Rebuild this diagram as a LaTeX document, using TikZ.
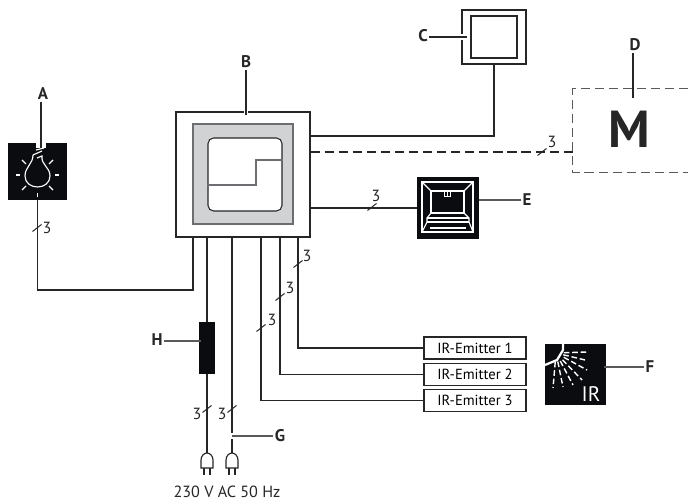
\documentclass[tikz,border=0pt]{standalone}
\usepackage{fontspec}
\setmainfont{PT Sans}
\usetikzlibrary{calc}
\definecolor{panelgray}{HTML}{D1D2D4}
\definecolor{edgegray}{HTML}{6D6E71}
\definecolor{leadgray}{HTML}{58595B}
\definecolor{icon}{HTML}{0B0C10}
\tikzstyle{box}=[rectangle,draw=black!85,fill=white,inner sep=0pt,line width=0.75pt,anchor=center]
\tikzstyle{iconbox}=[rectangle,fill=icon,inner sep=0pt,anchor=center]
\tikzstyle{annot}=[align=center,inner sep=1pt,font=\fontsize{11.5}{13}\selectfont,text=black!85]
\tikzstyle{letter}=[inner sep=1pt,font=\fontsize{12}{14}\bfseries\selectfont,text=black!85]
\tikzstyle{wire}=[line width=0.8pt,black!85]
\tikzstyle{lead}=[line width=0.8pt,leadgray]
\tikzstyle{halo}=[line width=3pt,white]
\tikzstyle{glyph}=[line width=0.8pt,white]
\newcommand{\wirecount}[5]
{
  \draw[line width=0.7pt,black!85] (#2-4.5,#3+3.5) -- (#2+4.5,#3-3.5);
  \node[annot](#1) at (#4,#5){3};
}
\newcommand{\plugicon}[1]
{
  \draw[line width=0.8pt,black!85,fill=white] (#1-6,468) -- (#1-6,460) .. controls (#1-6,456) and (#1-3,453) .. (#1,453) .. controls (#1+3,453) and (#1+6,456) .. (#1+6,460) -- (#1+6,468) -- cycle;
  \draw[line width=0.8pt,black!85] (#1-3,468) -- (#1-3,475) (#1+3,468) -- (#1+3,475);
}
\begin{document}
\begin{tikzpicture}[x=0.025cm,y=-0.025cm]
	\useasboundingbox (0,0) rectangle (688,504);

	% controller
	\node[box, minimum width=3.35cm, minimum height=3.125cm](ctrl) at (243,174.5){};
	\node[box, draw=edgegray, fill=panelgray, minimum width=2.5cm, minimum height=2.5cm](panel) at (243,174){};
	\node[box, rounded corners=4pt, minimum width=1.85cm, minimum height=1.825cm](screen) at (245,174.5){};
	\draw[line width=0.8pt,edgegray] (screen.west |- 0,185) -- (256,185) -- (256,160) -- (screen.east |- 0,160);

	% devices
	\node[box, minimum width=1.6cm, minimum height=1.35cm](wallbox) at (494,37){};
	\node[box, line width=1pt, minimum width=1.15cm, minimum height=1.05cm](walldisplay) at (494,37){};
	\node[minimum width=2.875cm, minimum height=2.075cm, inner sep=0pt](motor) at (630.5,130.5){};
	\node[inner sep=0pt, font=\fontsize{37}{37}\bfseries\selectfont, text=black!85](motorletter) at (629,129){M};
	\node[iconbox, minimum width=1.55cm, minimum height=1.55cm](oven) at (448,208){};
	\node[iconbox, minimum width=1.475cm, minimum height=1.425cm](lamp) at (37.5,171.5){};
	\node[iconbox, minimum width=1.525cm, minimum height=1.525cm](irbox) at (575.5,374.5){};
	\node[iconbox, minimum width=0.4cm, minimum height=1.3cm](fuse) at (207,348){};
	\node[box, minimum width=2.55cm, minimum height=0.55cm](emitter1) at (475,348){\fontsize{10.4}{12}\selectfont IR-Emitter 1};
	\node[box, minimum width=2.55cm, minimum height=0.55cm](emitter2) at (475,374.5){\fontsize{10.4}{12}\selectfont IR-Emitter 2};
	\node[box, minimum width=2.55cm, minimum height=0.55cm](emitter3) at (475,400.5){\fontsize{10.4}{12}\selectfont IR-Emitter 3};

	% wires
	\coordinate (plug1) at (207,453);
	\coordinate (plug2) at (232,453);
	\coordinate (tipG) at (232,436);
	\draw[wire] (ctrl.east |- 0,136) -| (wallbox.south);
	\draw[wire, dash pattern=on 6.5pt off 3.5pt] (ctrl.east |- 0,152) -- (motor.west |- 0,152);
	\draw[wire] (ctrl.east |- oven) -- (oven.west);
	\draw[wire] (lamp.south) |- (193,290) -- (193,237);
	\draw[wire] (207,237) -- (fuse.north);
	\draw[wire] (fuse.south) -- (plug1);
	\draw[wire] (232,237) -- (plug2);
	\draw[wire] (261,237) |- (emitter3.west);
	\draw[wire] (280,237) |- (emitter2.west);
	\draw[wire] (298,237) |- (emitter1.west);
	\draw[wire, leadgray, dash pattern=on 6.5pt off 3.5pt] (motor.north east) -- (motor.north west) -- (motor.south west) -- (motor.south east);

	\wirecount{countA}{37}{228}{47}{228}
	\wirecount{countD}{542}{152}{552}{142}
	\wirecount{countE}{372}{207}{376}{196}
	\wirecount{countP}{298}{264}{307}{256}
	\wirecount{countQ}{280}{297}{290}{288}
	\wirecount{countR}{261}{328}{272}{320}
	\wirecount{countG}{207}{409}{197}{414}
	\wirecount{countH}{232}{409}{222}{414}

	\plugicon{207}
	\plugicon{232}
	\node[annot](mains) at (227,492){230 V AC 50 Hz};

	% lamp icon
	\draw[glyph] (33,155) .. controls (33,164) and (25,167) .. (25,176) .. controls (25,183) and (31,187) .. (37.5,187) .. controls (44,187) and (50,183) .. (50,176) .. controls (50,167) and (41,165) .. (42,156) -- (37,158);
	\draw[glyph] (33,155) -- (42,151);
	\draw[glyph] (36,150) -- (44,148);
	\foreach \xa/\ya/\xb/\yb in {16/175/20/175, 55/175/59/175, 37.5/193/37.5/197, 22/160/26/164, 53/160/49/164, 22/190/26/186, 53/190/49/186}
		\draw[glyph] (\xa,\ya) -- (\xb,\yb);

	% oven icon
	\draw[glyph] (422,182) rectangle (473,232);
	\draw[glyph] (431,191) rectangle (464,213);
	\draw[glyph] (422,182) -- (431,191) (473,182) -- (464,191);
	\draw[glyph] (431,213) -- (427,218) -- (427,222) -- (422,232) (464,213) -- (469,218) -- (469,222) -- (473,232);
	\draw[glyph] (427,218) -- (469,218) (427,222) -- (469,222) (430,228) -- (466,228);
	\draw[glyph, line width=0.5pt] (444,191) -- (444,196) -- (450,196) -- (450,191) (447,191) -- (447,196);

	% emitter icon
	\draw[white, line width=1.6pt] (563,344) -- (563,350) -- (557,360) -- (545,365);
	\coordinate (raysource) at (556,353);
	\foreach \xe/\ye in {587/352, 585/360, 587/370, 582/380, 573/385, 563/387, 553/388}
		\draw[white, line width=1pt, dash pattern=on 4pt off 2pt] ($(raysource)!0.25!(\xe,\ye)$) -- (\xe,\ye);
	\node[inner sep=0pt, font=\fontsize{15}{15}\selectfont, text=white](irtext) at (591,394){IR};

	% labels
	\node[letter](labelA) at (43,94){A};
	\node[letter](labelB) at (246,62){B};
	\node[letter](labelC) at (423,36){C};
	\node[letter](labelD) at (635,45){D};
	\node[letter](labelE) at (527,200){E};
	\node[letter](labelF) at (650,367){F};
	\node[letter](labelG) at (280,436){G};
	\node[letter](labelH) at (157,340){H};
	\coordinate (tipA) at (41,148);
	\coordinate (tipB) at (246,115);
	\coordinate (tipC) at (467,37);
	\coordinate (tipD) at (633,98);
	\coordinate (tipE) at (479,200);
	\coordinate (tipF) at (604,367);
	\coordinate (tipH) at (201,341);
	\draw[halo] (38,148) -- (38,143) (44,148) -- (44,143);
	\draw[halo] (tipB |- ctrl.north) ++(0,-2) -- ++(0,5);
	\draw[halo] (462,34) -- (462,40);
	\draw[lead, black!85] (labelA.south -| tipA) -- (tipA);
	\draw[lead, black!85] (labelB.south -| tipB) -- (tipB);
	\draw[lead, black!85] (labelC.east |- tipC) -- (tipC);
	\draw[lead, black!85] (labelD.south -| tipD) -- (tipD);
	\draw[lead] (labelE.west |- tipE) -- (tipE);
	\draw[lead] (labelF.west |- tipF) -- (tipF);
	\draw[halo] (232,433) -- (232,439);
	\draw[lead] (labelG.west |- tipG) -- (tipG);
	\draw[lead] (labelH.east |- tipH) -- (tipH);
\end{tikzpicture}
\end{document}
